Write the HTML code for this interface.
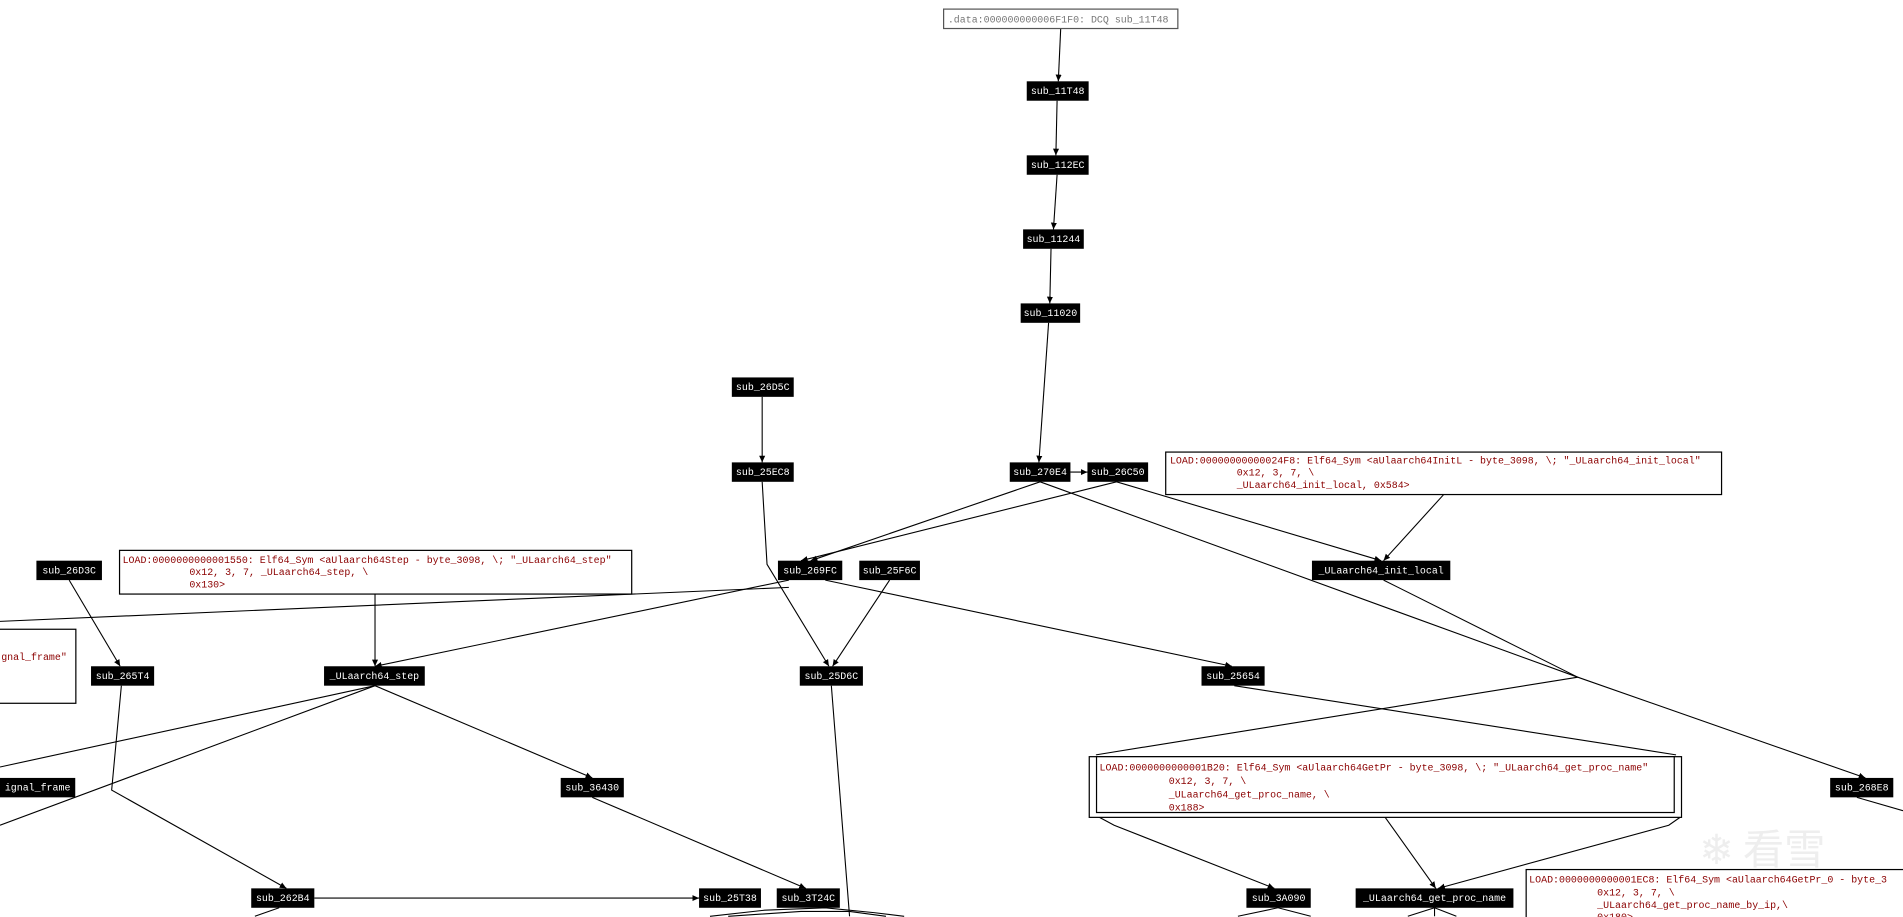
<!DOCTYPE html>
<html><head><meta charset="utf-8"><style>
html,body{margin:0;padding:0;background:#fff;overflow:hidden}
svg{display:block}
.n rect{fill:#000}
.n text{fill:#fff;font-family:"Liberation Mono",monospace;font-size:8.2px;text-anchor:middle;dominant-baseline:central}
.b{fill:#fff;stroke:#000;stroke-width:1}
.t{fill:#8b0000;font-family:"Liberation Mono",monospace;font-size:8.2px}
line,polyline{stroke:#000;stroke-width:0.9;fill:none}
</style></head><body>
<svg width="1903" height="917" viewBox="0 0 1568 755.6" preserveAspectRatio="none" xmlns="http://www.w3.org/2000/svg">
<defs><marker id="a" markerWidth="6" markerHeight="6" refX="5.5" refY="3" orient="auto" markerUnits="userSpaceOnUse"><path d="M0,0.5 L5.5,3 L0,5.5 z" fill="#000"/></marker></defs>
<g marker-end="url(#a)">
<line x1="874" y1="23" x2="872" y2="67"/>
<line x1="871" y1="83" x2="870" y2="128"/>
<line x1="871" y1="144" x2="868" y2="189"/>
<line x1="866" y1="205" x2="865" y2="250"/>
<line x1="864" y1="266" x2="856" y2="381"/>
<line x1="628" y1="327" x2="628" y2="381"/>
<line x1="882" y1="389" x2="896" y2="389"/>
<polyline points="628,397 632,465 683,549"/>
<line x1="857" y1="397" x2="668" y2="462"/>
<line x1="920" y1="397" x2="660" y2="462"/>
<polyline points="857,397 1300,558 1537,641"/>
<line x1="920" y1="397" x2="1138" y2="462"/>
<line x1="1190" y1="407" x2="1140" y2="462"/>
<line x1="680" y1="478" x2="1015" y2="549"/>
<line x1="650" y1="478" x2="309" y2="549"/>
<line x1="733" y1="478" x2="686" y2="549"/>
<line x1="57" y1="478" x2="99" y2="549"/>
<line x1="309" y1="489" x2="309" y2="549"/>
<line x1="309" y1="565" x2="488" y2="641"/>
<polyline points="100,565 92,651 236,732"/>
<line x1="488" y1="657" x2="664" y2="732"/>
<line x1="259" y1="740" x2="576" y2="740"/>
<polyline points="905,673 918,680 1050,732"/>
<line x1="1141" y1="673" x2="1183" y2="732"/>
<polyline points="1385,673 1375,680 1185,732"/>
</g>
<line x1="685" y1="565" x2="700" y2="755"/>
<line x1="650" y1="484" x2="0" y2="512"/>
<line x1="309" y1="565" x2="0" y2="632"/>
<line x1="309" y1="565" x2="0" y2="680"/>
<polyline points="1140,478 1300,558 903,622"/>
<line x1="1017" y1="565" x2="1381" y2="622"/>
<line x1="1530" y1="657" x2="1568" y2="668"/>
<line x1="1053" y1="748" x2="1020" y2="755"/>
<line x1="1053" y1="748" x2="1080" y2="755"/>
<line x1="1182" y1="748" x2="1160" y2="755"/>
<line x1="1182" y1="748" x2="1200" y2="755"/>
<line x1="1182" y1="748" x2="1182" y2="755"/>
<line x1="230" y1="748" x2="210" y2="755"/>
<polyline points="585,755 630,750 680,748 720,752 745,755"/>
<polyline points="600,755 660,751 700,751 730,755"/>
<rect class="b" x="777.5" y="7.5" width="193" height="16" style="stroke:#555"/>
<text x="781" y="18.5" style="fill:#777;font-family:'Liberation Mono',monospace;font-size:8.2px">.data:000000000006F1F0: DCQ sub_11T48</text>
<rect class="b" x="960.5" y="372.5" width="458" height="35"/>
<text class="t" x="964" y="382">LOAD:00000000000024F8: Elf64_Sym &lt;aUlaarch64InitL - byte_3098, \; "_ULaarch64_init_local"</text>
<text class="t" x="1019" y="392">0x12, 3, 7, \</text>
<text class="t" x="1019" y="402">_ULaarch64_init_local, 0x584&gt;</text>
<rect class="b" x="98.5" y="453.5" width="422" height="36"/>
<text class="t" x="101" y="464">LOAD:0000000000001550: Elf64_Sym &lt;aUlaarch64Step - byte_3098, \; "_ULaarch64_step"</text>
<text class="t" x="156" y="474">0x12, 3, 7, _ULaarch64_step, \</text>
<text class="t" x="156" y="484">0x130&gt;</text>
<rect class="b" x="-5" y="518.5" width="67.5" height="61"/>
<text class="t" x="1" y="544">gnal_frame"</text>
<rect class="b" x="897.5" y="623.5" width="488" height="50"/>
<rect class="b" x="903.5" y="623.5" width="476" height="46"/>
<text class="t" x="906" y="635">LOAD:0000000000001B20: Elf64_Sym &lt;aUlaarch64GetPr - byte_3098, \; "_ULaarch64_get_proc_name"</text>
<text class="t" x="963" y="646">0x12, 3, 7, \</text>
<text class="t" x="963" y="657">_ULaarch64_get_proc_name, \</text>
<text class="t" x="963" y="668">0x188&gt;</text>
<rect class="b" x="1257.5" y="716.5" width="320" height="50"/>
<text class="t" x="1260" y="727">LOAD:0000000000001EC8: Elf64_Sym &lt;aUlaarch64GetPr_0 - byte_3</text>
<text class="t" x="1316" y="738">0x12, 3, 7, \</text>
<text class="t" x="1316" y="748">_ULaarch64_get_proc_name_by_ip,\</text>
<text class="t" x="1316" y="758">0x180&gt;</text>
<text x="1400" y="712" style="fill:#eee;font-family:'Noto Sans CJK SC',sans-serif;font-size:34px">❄ 看雪</text>
<g class="n">
<rect x="846" y="67" width="51" height="16"/><text x="871.5" y="75.5">sub_11T48</text>
<rect x="846" y="128" width="51" height="16"/><text x="871.5" y="136.5">sub_112EC</text>
<rect x="843" y="189" width="50" height="16"/><text x="868" y="197.5">sub_11244</text>
<rect x="841" y="250" width="49" height="16"/><text x="865.5" y="258.5">sub_11020</text>
<rect x="603" y="311" width="51" height="16"/><text x="628.5" y="319.5">sub_26D5C</text>
<rect x="603" y="381" width="51" height="16"/><text x="628.5" y="389.5">sub_25EC8</text>
<rect x="832" y="381" width="50" height="16"/><text x="857" y="389.5">sub_270E4</text>
<rect x="896" y="381" width="50" height="16"/><text x="921" y="389.5">sub_26C50</text>
<rect x="1081" y="462" width="114" height="16"/><text x="1138" y="470.5">_ULaarch64_init_local</text>
<rect x="641" y="462" width="53" height="16"/><text x="667.5" y="470.5">sub_269FC</text>
<rect x="708" y="462" width="50" height="16"/><text x="733" y="470.5">sub_25F6C</text>
<rect x="30" y="462" width="54" height="16"/><text x="57" y="470.5">sub_26D3C</text>
<rect x="75" y="549" width="52" height="16"/><text x="101" y="557.5">sub_265T4</text>
<rect x="267" y="549" width="83" height="16"/><text x="308.5" y="557.5">_ULaarch64_step</text>
<rect x="659" y="549" width="52" height="16"/><text x="685" y="557.5">sub_25D6C</text>
<rect x="990" y="549" width="52" height="16"/><text x="1016" y="557.5">sub_25654</text>
<rect x="0" y="641" width="62" height="16"/><text x="31" y="649.5">ignal_frame</text>
<rect x="462" y="641" width="52" height="16"/><text x="488" y="649.5">sub_36430</text>
<rect x="1508" y="641" width="52" height="16"/><text x="1534" y="649.5">sub_268E8</text>
<rect x="207" y="732" width="52" height="16"/><text x="233" y="740.5">sub_262B4</text>
<rect x="576" y="732" width="51" height="16"/><text x="601.5" y="740.5">sub_25T38</text>
<rect x="640" y="732" width="52" height="16"/><text x="666" y="740.5">sub_3T24C</text>
<rect x="1027" y="732" width="53" height="16"/><text x="1053.5" y="740.5">sub_3A090</text>
<rect x="1117" y="732" width="130" height="16"/><text x="1182" y="740.5">_ULaarch64_get_proc_name</text>
</g>
</svg>
</body></html>
